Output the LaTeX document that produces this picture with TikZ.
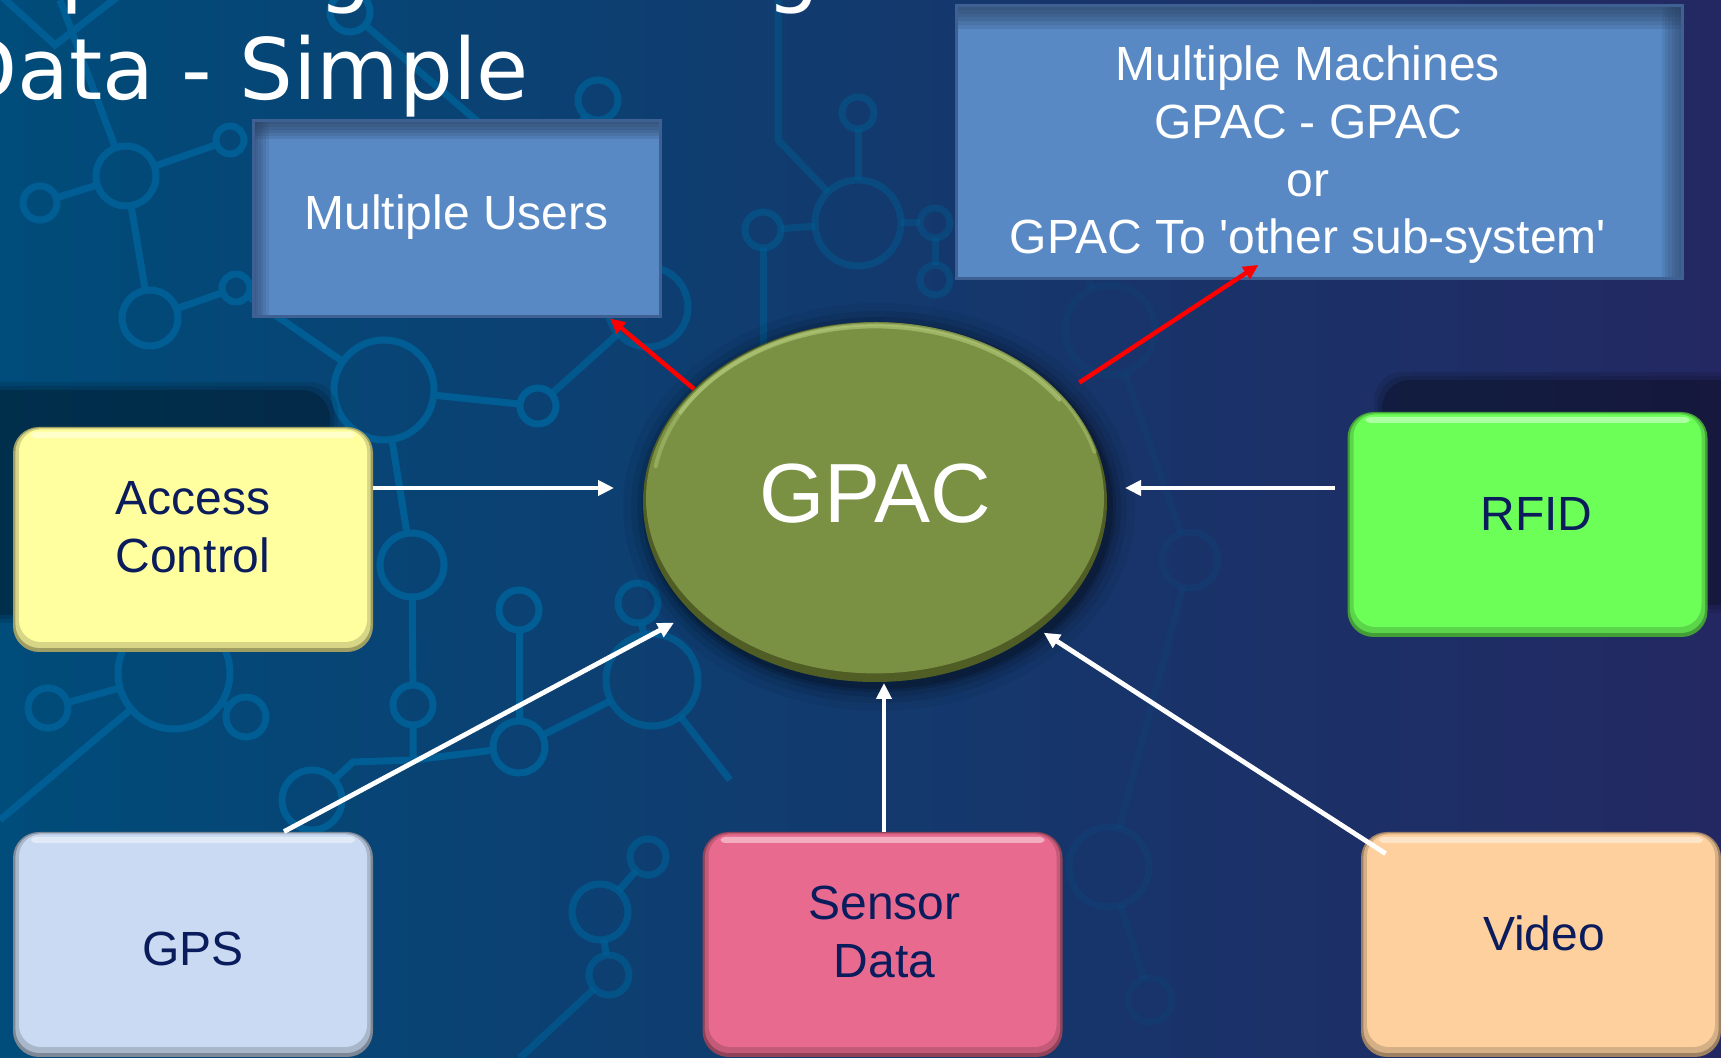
\documentclass[tikz,border=0pt]{standalone}
\usepackage{fontspec}
\setmainfont{Liberation Sans}
\newfontfamily\titlefont{DejaVu Sans}
\usetikzlibrary{arrows.meta,shapes.geometric,calc}

\definecolor{bgleft}{RGB}{0,76,122}
\definecolor{bgmid}{RGB}{4,68,117}
\definecolor{bgright}{RGB}{36,40,98}
\definecolor{circuit}{RGB}{0,94,148}
\definecolor{labelnavy}{RGB}{10,28,92}
\definecolor{panelblue}{RGB}{88,137,196}
\definecolor{paneledge}{RGB}{62,96,146}
\definecolor{panelshade}{RGB}{40,62,96}
\definecolor{olive}{RGB}{122,144,66}
\definecolor{olivelight}{RGB}{180,204,124}
\definecolor{olivedark}{RGB}{80,94,38}
\definecolor{acyellow}{RGB}{255,255,160}
\definecolor{rfgreen}{RGB}{108,255,88}
\definecolor{gpsblue}{RGB}{201,218,242}
\definecolor{senpink}{RGB}{232,107,143}
\definecolor{vidpeach}{RGB}{254,208,158}
\definecolor{arrowred}{RGB}{255,0,0}

% label block: #1 = twice the horizontal offset, #2 = first baseline above the centre
\newcommand\lbl[3]{\raisebox{#2}[0pt][0pt]{\makebox[0pt]{\hspace*{#1}\begin{tabular}[t]{@{}c@{}}#3\end{tabular}}}}

\tikzset{
  ring/.style={circle, draw=circuit, line width=3.5pt, inner sep=0pt, outer sep=0pt},
  trace/.style={draw=circuit, line width=3.5pt},
  softbox/.style={rectangle, rounded corners=13pt, minimum width=180pt, minimum height=112.5pt,
    inner sep=0pt, fill=#1!62!black, text=labelnavy, font=\fontsize{24}{28.6}\selectfont,
    path picture={
      \fill[#1!84!black, rounded corners=12pt]
        ([xshift=1.2pt,yshift=2pt]path picture bounding box.south west) rectangle
        ([xshift=-1.2pt,yshift=-0.6pt]path picture bounding box.north east);
      \fill[#1, rounded corners=11pt]
        ([xshift=3pt,yshift=5pt]path picture bounding box.south west) rectangle
        ([xshift=-3pt,yshift=-1.2pt]path picture bounding box.north east);
      \fill[white, opacity=.45, rounded corners=2pt]
        ([xshift=9pt,yshift=-2.5pt]path picture bounding box.north west) rectangle
        ([xshift=-9pt,yshift=-5.5pt]path picture bounding box.north east);
    }},
  panel/.style={rectangle, fill=panelblue, draw=paneledge, line width=1.5pt, inner sep=0pt,
    text=white, font=\fontsize{24}{28.85}\selectfont},
  panelL/.style={panel, minimum width=203.5pt, minimum height=98pt,
    path picture={
      \foreach \k in {1,...,6}
        \fill[panelshade, opacity=.16] (path picture bounding box.north west)
          rectangle ([yshift=-\k*1.5pt]path picture bounding box.north east);
      \foreach \k in {1,...,6}
        \fill[panelshade, opacity=.13] (path picture bounding box.north west)
          rectangle ([xshift=\k*1.3pt]path picture bounding box.south west);
    }},
  panelR/.style={panel, minimum width=363pt, minimum height=136.5pt,
    path picture={
      \foreach \k in {1,...,6}
        \fill[panelshade, opacity=.16] (path picture bounding box.north west)
          rectangle ([yshift=-\k*1.9pt]path picture bounding box.north east);
      \foreach \k in {1,...,6}
        \fill[panelshade, opacity=.13] ([xshift=-\k*1.7pt]path picture bounding box.north east)
          rectangle (path picture bounding box.south east);
    }},
  hub/.style={ellipse, minimum width=232pt, minimum height=180pt, inner sep=0pt,
    fill=olivedark, text=white, font=\fontsize{42}{50}\selectfont,
    path picture={
      \fill[olive] ([yshift=1.8pt]path picture bounding box.center) ellipse [x radius=114.5pt, y radius=87.5pt];
      \draw[olivelight, line width=2pt, line cap=round, opacity=.45]
        ([shift={(-109.7pt,17.8pt)}]path picture bounding box.center)
        arc[start angle=170, end angle=15, x radius=112.5pt, y radius=86pt];
      \draw[olivelight, line width=2pt, line cap=round, opacity=.6]
        ([shift={(-97.4pt,44.8pt)}]path picture bounding box.center)
        arc[start angle=150, end angle=35, x radius=112.5pt, y radius=86pt];
    }},
  warrow/.style={draw=white, line width=2.4pt, -{Triangle[length=8pt,width=7.5pt]}},
  rarrow/.style={draw=arrowred, line width=2.25pt, -{Triangle[length=7.5pt,width=7pt]}},
}

\begin{document}
\begin{tikzpicture}[x=0.5pt,y=-0.5pt]
\useasboundingbox (0,0) rectangle (1721,1058);
\clip (0,0) rectangle (1721,1058);

% backdrop
\shade[left color=bgleft, middle color=bgmid, right color=bgright] (0,0) rectangle (1721,1058);

% faint circuit pattern
\foreach \n/\x/\y/\r/\o in {
  a1/40/203/17/1, a2/126/176/30/1, a3/230/140/14/1, a4/150/318/28/1, a5/236/288/14/1,
  a6/384/390/50/1, a7/538/406/18/1, a8/412/565/32/1, a9/48/708/20/1, a10/174/673/56/1,
  a11/246/717/20/1, a12/413/705/20/1, a13/519/610/20/1, a14/519/747/26/1, a15/312/800/30/1,
  a16/652/680/46/.8, a17/638/603/20/.8, a18/648/307/40/.7, a19/598/100/20/.8, a20/350/12/20/1,
  a21/858/113/16/.45, a22/858/223/43/.45, a23/763/230/18/.55, a24/935/223/15/.4, a25/935/280/15/.4,
  a26/600/912/28/.75, a27/648/857/18/.65, a28/609/975/20/.65, a29/1109/867/40/.15, a30/1040/170/25/.14,
  a31/1110/330/45/.12, a32/1190/560/28/.12, a33/1150/1000/22/.14, a34/540/175/24/.8}
  \node[ring, minimum size=\r pt, draw opacity=\o] (\n) at (\x,\y) {};
\foreach \p/\q/\o in {
  a1/a2/1, a2/a3/1, a2/a4/1, a4/a5/1, a5/a6/1, a6/a7/1, a7/a18/.8, a6/a8/1, a13/a14/1,
  a14/a16/.9, a16/a17/.8, a10/a9/1, a10/a11/1, a22/a21/.45, a22/a23/.45, a22/a24/.4,
  a24/a25/.4, a20/a34/.9, a34/a19/.8, a26/a27/.75, a26/a28/.75, a30/a31/.12, a31/a32/.12, a29/a33/.14}
  \draw[trace, opacity=\o] (\p) -- (\q);
\draw[trace] (a10) -- (0,820);
\draw[trace] (a2) -- (60,0);
\draw[trace] (0,-5) -- (55,45) -- (120,-5);
\draw[trace] (a8) -- (a12);
\draw[trace] (a12) -- (413,760) -- (a14);
\draw[trace] (413,760) -- (353,762) -- (a15);
\draw[trace, opacity=.55] (a23) -- (763,420);
\draw[trace, opacity=.45] (a22) -- (778,140) -- (778,0);
\draw[trace, opacity=.65] (a28) -- (520,1058);
\draw[trace, opacity=.8] (a16) -- (730,780);
\draw[trace, opacity=.12] (a32) -- (a29);

% heading (only its lower part lies inside the frame)
\begin{scope}[every node/.style={inner sep=0pt, anchor=base west, text=white,
    font=\titlefont\fontsize{42.4}{51}\selectfont}]
  \node (frag1) at (60,-3) {p};
  \node (frag2) at (318,-3) {g};
  \node (frag3) at (766,-3) {g};
  \node (title) at (-48,100) {Data - Simple};
\end{scope}

% cast shadows
\foreach \g/\o in {8/.1, 4/.12, 0/.2} {
  \fill[black, opacity=\o, rounded corners=14pt] (-30-\g,390-\g) rectangle (330+\g,615+\g);
  \fill[black, opacity=\o, rounded corners=14pt] (1382-\g,380-\g) rectangle (1745+\g,605+\g);
}
\coordinate (hubc) at (875,502);
\foreach \rx/\ry/\o in {128/102/.05, 124/98/.08, 121/95/.1, 118.5/92.5/.14, 117/91/.16}
  \fill[black, opacity=\o] ([shift={(4,5)}]hubc) ellipse [x radius=\rx pt, y radius=\ry pt];

% blocks
\node[panelL] (users) at (456.5,219) {\lbl{0pt}{-5.5pt}{Multiple Users}};
\node[panelR] (machines) at (1319,142.5)
  {\lbl{-11pt}{30.9pt}{Multiple Machines\\GPAC - GPAC\\or\\GPAC To \textquotesingle other sub-system\textquotesingle}};
\node[hub] (gpac) at (hubc) {\lbl{0pt}{-10.5pt}{GPAC}};
\node[softbox=acyellow] (acc) at (193,539.5) {\lbl{0pt}{12.25pt}{Access\\Control}};
\node[softbox=rfgreen] (rfid) at (1527.5,524.5) {\lbl{9pt}{-3.1pt}{RFID}};
\node[softbox=gpsblue] (gps) at (193,944.5) {\lbl{0pt}{-10.6pt}{GPS}};
\node[softbox=senpink] (sen) at (882.5,944.5) {\lbl{2pt}{12.25pt}{Sensor\\Data}};
\node[softbox=vidpeach] (vid) at (1541,944.5) {\lbl{3pt}{-3.1pt}{Video}};

% inputs into the hub
\coordinate (inAC) at (614,488);
\coordinate (inRF) at (1125,488);
\coordinate (inGPS) at (674,622.7);
\coordinate (inSD) at (884,683);
\coordinate (inVID) at (1043.7,632.7);
\draw[warrow] (acc.east |- inAC) -- (inAC);
\draw[warrow, shorten <=6.2pt] (rfid.west |- inRF) -- (inRF);
\draw[warrow] ([shift={(91,0)}]gps.north) -- (inGPS);
\draw[warrow] (sen.north -| inSD) -- (inSD);
\draw[warrow] ([shift={(25,22)}]vid.north west) -- (inVID);

% outputs from the hub
\draw[rarrow] (gpac.148) -- ([shift={(-51.5,0)}]users.south east);
\draw[rarrow, shorten <=10.7pt] (gpac.30) -- ([shift={(-60.6,-15.6)}]machines.south);
\end{tikzpicture}
\end{document}
